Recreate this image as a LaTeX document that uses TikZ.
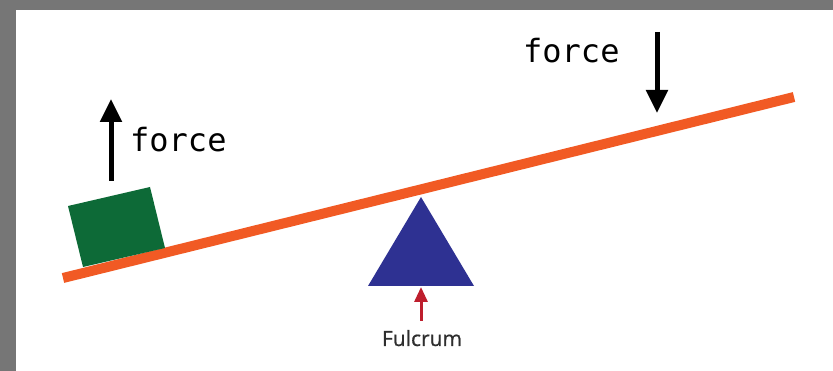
\documentclass[tikz,border=0pt]{standalone}
\usepackage{fontspec}
\setmonofont{DejaVu Sans Mono}
\newfontfamily\captionfont[FakeBold=0.7]{Open Sans}
\usetikzlibrary{positioning,arrows.meta}
\definecolor{frame}{HTML}{767676}
\definecolor{beam}{HTML}{F15A24}
\definecolor{block}{HTML}{0D6A37}
\definecolor{pivot}{HTML}{2E3192}
\definecolor{push}{HTML}{BE1E2D}
\definecolor{caption}{HTML}{2E2E2E}

\begin{document}
\begin{tikzpicture}[x=1pt,y=-1pt,every node/.style={inner sep=0pt},
      forcetext/.style={font=\fontsize{32}{32}\selectfont\ttfamily,anchor=base west},
      forcearrow/.style={-{Triangle[width=21pt,length=23pt]},line width=5pt,black},
      pusharrow/.style={-{Triangle[width=13pt,length=15pt]},line width=3pt,push},
      lever/.style={line width=10pt,beam}]
      \fill[frame] (0,0) rectangle (833,371);
      \fill[white] (16,10) rectangle (833,371);
      \useasboundingbox (0,0) rectangle (833,371);
      % beam and load
      \coordinate (low) at (63,278); \coordinate (high) at (794,97);
      \draw[lever] (low)--(high);
      \fill[block] (68,206)--(150,187)--(165,248)--(83,267)--cycle;
      % fulcrum
      \coordinate (apex) at (421,197);
      \fill[pivot] (apex)--(474,286)--(368,286)--cycle;
      \coordinate (base) at (421,287); \coordinate (tail) at (421,321);
      \draw[pusharrow] (tail)--(base);
      \node[font=\fontsize{21}{21}\selectfont\captionfont,text=caption,anchor=base] (fulcrum) at (422,346) {Fulcrum};
      % forces
      \coordinate (upfoot) at (111,181); \coordinate (uptip) at (111,99);
      \draw[forcearrow] (upfoot)--(uptip);
      \node[forcetext] (upforce) at (130,152) {force};
      \coordinate (downtop) at (657,32); \coordinate (downtip) at (657,113);
      \draw[forcearrow] (downtop)--(downtip);
      \node[forcetext] (downforce) at (523,63) {force};
    \end{tikzpicture}
\end{document}
